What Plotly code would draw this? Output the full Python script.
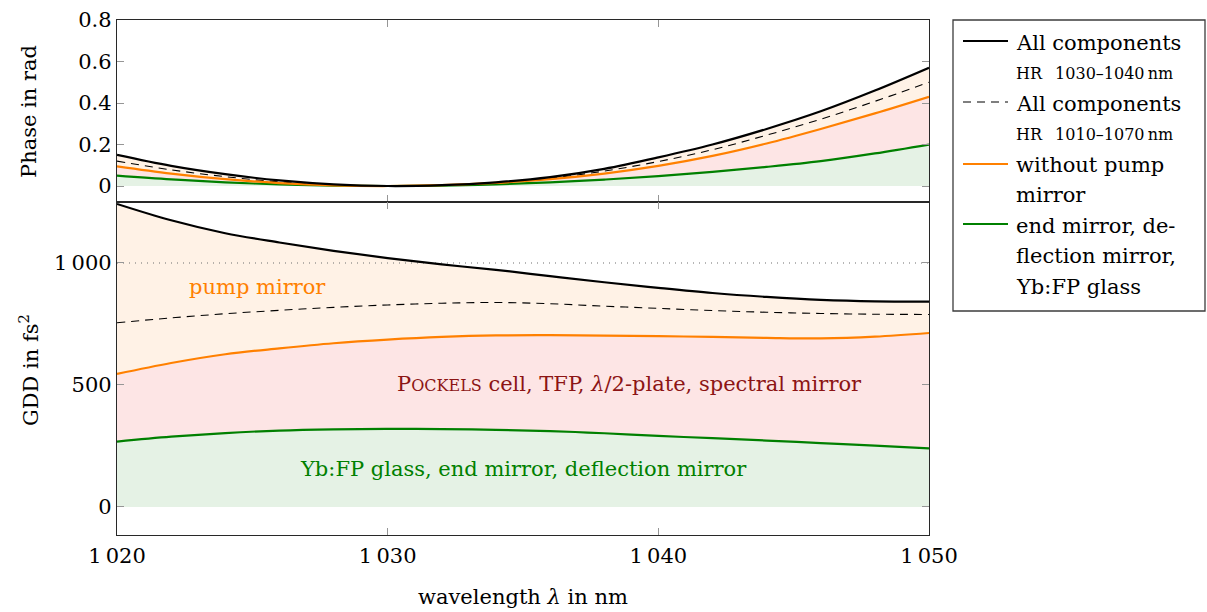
import plotly.graph_objects as go
from plotly.subplots import make_subplots

# ---------------- data ----------------
wavelength = [1020, 1022, 1024, 1026, 1028, 1030, 1032, 1034, 1036, 1038, 1040, 1042, 1044, 1046, 1048, 1050]

phase_all_narrow = [0.15, 0.097, 0.057, 0.027, 0.008, 0.0, 0.004, 0.018, 0.043, 0.083, 0.138, 0.2, 0.275, 0.36, 0.46, 0.57]
phase_all_broad = [0.12, 0.078, 0.045, 0.02, 0.005, 0.0, 0.004, 0.016, 0.038, 0.072, 0.118, 0.175, 0.245, 0.322, 0.408, 0.50]
phase_no_pump = [0.095, 0.06, 0.033, 0.014, 0.003, 0.0, 0.004, 0.015, 0.033, 0.06, 0.097, 0.145, 0.205, 0.275, 0.35, 0.43]
phase_glass = [0.05, 0.032, 0.018, 0.008, 0.002, 0.0, 0.002, 0.008, 0.018, 0.031, 0.048, 0.068, 0.092, 0.12, 0.157, 0.2]

gdd_all_narrow = [1242, 1175, 1122, 1084, 1050, 1020, 994, 972, 946, 921, 898, 877, 861, 849, 843, 842]
gdd_all_broad = [755, 775, 792, 806, 818, 828, 835, 838, 833, 823, 814, 805, 798, 793, 790, 789]
gdd_no_pump = [545, 590, 626, 650, 671, 686, 697, 703, 704, 702, 700, 697, 693, 691, 698, 713]
gdd_glass = [268, 288, 303, 313, 318, 320, 319, 316, 311, 302, 291, 282, 272, 262, 251, 240]
zeros = [0.0] * len(wavelength)

gdd_reference = 1000

x_ticks = [1020, 1030, 1040, 1050]
x_ticktext = ["1\u2009020", "1\u2009030", "1\u2009040", "1\u2009050"]
phase_ticks = [0, 0.2, 0.4, 0.6, 0.8]
phase_ticktext = ["0", "0.2", "0.4", "0.6", "0.8"]
gdd_ticks = [0, 500, 1000]
gdd_ticktext = ["0", "500", "1\u2009000"]

# ---------------- style ----------------
FONT = "DejaVu Serif"
FS = 21
FS_SMALL = 16
BLACK = "black"
ORANGE = "rgb(255,128,0)"
GREEN = "rgb(0,128,0)"
DARKRED = "rgb(140,20,20)"
FILL_GREEN = "rgb(229,242,229)"
FILL_RED = "rgb(253,229,229)"
FILL_ORANGE = "rgb(255,242,230)"

W, H = 1207, 612
L, R, T, B = 117, 929, 20, 535
SPLIT = 202

fig = make_subplots(rows=2, cols=1, shared_xaxes=True, vertical_spacing=0,
                    row_heights=[(SPLIT - T) / (B - T), (B - SPLIT) / (B - T)])


def add_fills(row, base, g, o, k):
    fig.add_trace(go.Scatter(x=wavelength, y=base, mode="lines", line=dict(width=0),
                             showlegend=False, hoverinfo="skip"), row=row, col=1)
    fig.add_trace(go.Scatter(x=wavelength, y=g, mode="lines", fill="tonexty", fillcolor=FILL_GREEN,
                             line=dict(width=0, shape="spline"), showlegend=False), row=row, col=1)
    fig.add_trace(go.Scatter(x=wavelength, y=o, mode="lines", fill="tonexty", fillcolor=FILL_RED,
                             line=dict(width=0, shape="spline"), showlegend=False), row=row, col=1)
    fig.add_trace(go.Scatter(x=wavelength, y=k, mode="lines", fill="tonexty", fillcolor=FILL_ORANGE,
                             line=dict(width=0, shape="spline"), showlegend=False), row=row, col=1)


def add_lines(row, g, o, k, d):
    fig.add_trace(go.Scatter(x=wavelength, y=d, mode="lines",
                             line=dict(color=BLACK, width=1.1, dash="8px,6px", shape="spline"),
                             showlegend=False), row=row, col=1)
    fig.add_trace(go.Scatter(x=wavelength, y=g, mode="lines",
                             line=dict(color=GREEN, width=2.2, shape="spline"), showlegend=False), row=row, col=1)
    fig.add_trace(go.Scatter(x=wavelength, y=o, mode="lines",
                             line=dict(color=ORANGE, width=2.2, shape="spline"), showlegend=False), row=row, col=1)
    fig.add_trace(go.Scatter(x=wavelength, y=k, mode="lines",
                             line=dict(color=BLACK, width=2.2, shape="spline"), showlegend=False), row=row, col=1)


add_fills(1, zeros, phase_glass, phase_no_pump, phase_all_narrow)
add_lines(1, phase_glass, phase_no_pump, phase_all_narrow, phase_all_broad)
add_fills(2, zeros, gdd_glass, gdd_no_pump, gdd_all_narrow)
# dotted reference line in GDD panel (over the fills)
fig.add_trace(go.Scatter(x=[wavelength[0], wavelength[-1]], y=[gdd_reference, gdd_reference], mode="lines",
                         line=dict(color="rgb(110,110,110)", width=1.1, dash="1px,5px"),
                         showlegend=False, hoverinfo="skip"), row=2, col=1)
add_lines(2, gdd_glass, gdd_no_pump, gdd_all_narrow, gdd_all_broad)

axis_common = dict(showline=True, linecolor="rgb(40,40,40)", linewidth=1.3, mirror="allticks",
                   ticks="inside", ticklen=7, tickcolor="rgb(150,150,150)", tickwidth=1,
                   showgrid=False, zeroline=False, automargin=False,
                   tickfont=dict(family=FONT, size=FS, color="black"))

fig.update_xaxes(range=[1020, 1050], tickvals=x_ticks, ticktext=x_ticktext, **axis_common)
fig.update_xaxes(showticklabels=False, row=1, col=1)
fig.update_xaxes(ticklabelstandoff=2, row=2, col=1)
fig.update_yaxes(range=[-0.077, 0.80], tickvals=phase_ticks, ticktext=phase_ticktext, row=1, col=1, **axis_common)
fig.update_yaxes(range=[-115, 1250], tickvals=gdd_ticks, ticktext=gdd_ticktext, row=2, col=1, **axis_common)


def px(xp):
    return (xp - L) / (R - L)


def py(yp):
    return (B - yp) / (B - T)


def label(xp, yp, text, size=FS, color="black", angle=0, xanchor="center"):
    fig.add_annotation(x=px(xp), y=py(yp), xref="paper", yref="paper", text=text, showarrow=False,
                       textangle=angle, xanchor=xanchor, yanchor="middle",
                       font=dict(family=FONT, size=size, color=color))


# axis titles
label(523, 597, "wavelength <i>λ</i> in nm")
label(29, 112, "Phase in rad", angle=-90)
label(29, 370, "GDD in fs<sup>2</sup>", angle=-90)

# in-plot labels
fig.add_annotation(x=1025.2, y=902, xref="x2", yref="y2", text="pump mirror", showarrow=False,
                   font=dict(family=FONT, size=FS, color=ORANGE))
fig.add_annotation(x=1038.95, y=504, xref="x2", yref="y2",
                   text="P<span style=\"font-size:16px\">OCKELS</span> cell, TFP, <i>λ</i>/2-plate, spectral mirror",
                   showarrow=False, font=dict(family=FONT, size=FS, color=DARKRED))
fig.add_annotation(x=1035.0, y=156, xref="x2", yref="y2", text="Yb:FP glass, end mirror, deflection mirror",
                   showarrow=False, font=dict(family=FONT, size=FS, color=GREEN))

# ---------------- manual legend ----------------
fig.add_shape(type="rect", xref="paper", yref="paper", x0=px(953), x1=px(1205), y0=py(311), y1=py(20),
              line=dict(color="rgb(60,60,60)", width=1.3), fillcolor="white", layer="above")
legend_lines = [(41, BLACK, "solid", 2.2), (102, BLACK, "8px,6px", 1.1), (164, ORANGE, "solid", 2.2),
                (224, GREEN, "solid", 2.2)]
for yy, col, dash, wd in legend_lines:
    fig.add_shape(type="line", xref="paper", yref="paper", x0=px(963), x1=px(1008), y0=py(yy), y1=py(yy),
                  line=dict(color=col, width=wd, dash=dash), layer="above")
legend_rows = [(43, "All components", FS), (73, "HR\u2002 1030–1040\u2009nm", FS_SMALL),
               (104, "All components", FS), (134, "HR\u2002 1010–1070\u2009nm", FS_SMALL),
               (165, "without pump", FS), (195, "mirror", FS), (226, "end mirror, de-", FS),
               (256, "flection mirror,", FS), (287, "Yb:FP glass", FS)]
for yy, txt, sz in legend_rows:
    label(1014, yy, txt, size=sz, xanchor="left")

fig.update_layout(width=W, height=H, margin=dict(l=L, r=W - R, t=T, b=H - B, autoexpand=False),
                  plot_bgcolor="white", paper_bgcolor="white", showlegend=False)

fig.write_html("out.html")
